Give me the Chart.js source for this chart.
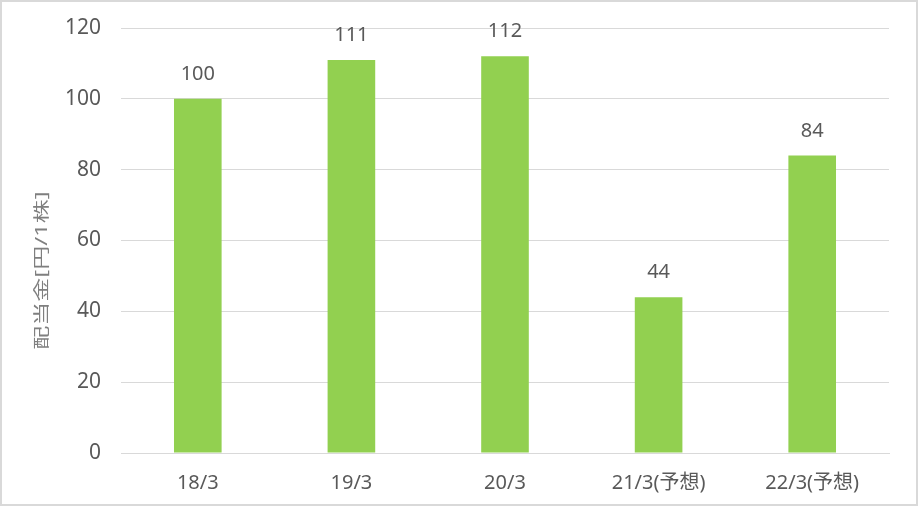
<!DOCTYPE html>
<html>
<head>
<meta charset="utf-8">
<script src="https://cdn.jsdelivr.net/npm/chart.js@4/dist/chart.umd.min.js"></script>
<style>
  html, body { margin: 0; padding: 0; background: #fff; }
  #wrap { position: relative; width: 918px; height: 506px; box-sizing: border-box; border: 2px solid #d9d9d9; }
  canvas { display: block; }
</style>
</head>
<body>
<div id="wrap"><canvas id="c" width="914" height="502"></canvas></div>
<script>
// 配当金データ
const categories = ['18/3', '19/3', '20/3', '21/3(予想)', '22/3(予想)'];
const dividends = [100, 111, 112, 44, 84];
const yTicks = [0, 20, 40, 60, 80, 100, 120];
const yTitle = '配当金[円/1株]';

const FONT = '"Noto Sans", "Noto Sans CJK JP", sans-serif';
const TEXT = '#595959';

// 棒の上に値を描くプラグイン
const valueLabels = {
    id: 'valueLabels',
    afterDatasetsDraw(chart) {
        const ctx = chart.ctx;
        const meta = chart.getDatasetMeta(0);
        ctx.save();
        ctx.font = '20px ' + FONT;
        ctx.fillStyle = TEXT;
        ctx.textAlign = 'center';
        ctx.textBaseline = 'alphabetic';
        meta.data.forEach((bar, i) => {
            ctx.fillText(String(dividends[i]), bar.x, bar.y - 19);
        });
        ctx.restore();
    }
};

// 縦軸タイトル（縦長に引き伸ばして描く）
const axisTitle = {
    id: 'axisTitle',
    afterDraw(chart) {
        const ctx = chart.ctx;
        const area = chart.chartArea;
        ctx.save();
        ctx.translate(40, (area.top + area.bottom) / 2 + 30);
        ctx.rotate(-Math.PI / 2);
        ctx.scale(1.5, 1);
        ctx.font = '16px ' + FONT;
        ctx.fillStyle = '#7f7f7f';
        ctx.textAlign = 'center';
        ctx.textBaseline = 'middle';
        ctx.fillText(yTitle, 0, 0);
        ctx.restore();
    }
};

new Chart(document.getElementById('c'), {
    type: 'bar',
    data: {
        labels: categories,
        datasets: [{
            data: dividends,
            backgroundColor: '#92d050',
            categoryPercentage: 1,
            barPercentage: 0.31
        }]
    },
    options: {
        responsive: false,
        animation: false,
        layout: { padding: { left: 4, right: 27, top: 26, bottom: 0 } },
        plugins: {
            legend: { display: false },
            tooltip: { enabled: false }
        },
        scales: {
            x: {
                grid: { display: false, drawTicks: false },
                border: { color: '#d9d9d9', width: 1 },
                ticks: {
                    color: TEXT,
                    font: { family: FONT, size: 20 },
                    padding: 18
                },
                afterFit: s => { s.height = 51; s.paddingLeft = 0; s.paddingRight = 0; }
            },
            y: {
                min: 0,
                max: 120,
                afterBuildTicks: s => { s.ticks = yTicks.map(v => ({ value: v })); },
                grid: { color: '#d9d9d9', lineWidth: 1, drawTicks: false },
                border: { display: false },
                ticks: {
                    color: TEXT,
                    font: { family: FONT, size: 21 },
                    padding: 20
                },
                afterFit: s => { s.width = 115; s.paddingTop = 0; s.paddingBottom = 0; }
            }
        }
    },
    plugins: [valueLabels, axisTitle]
});
</script>
</body>
</html>
